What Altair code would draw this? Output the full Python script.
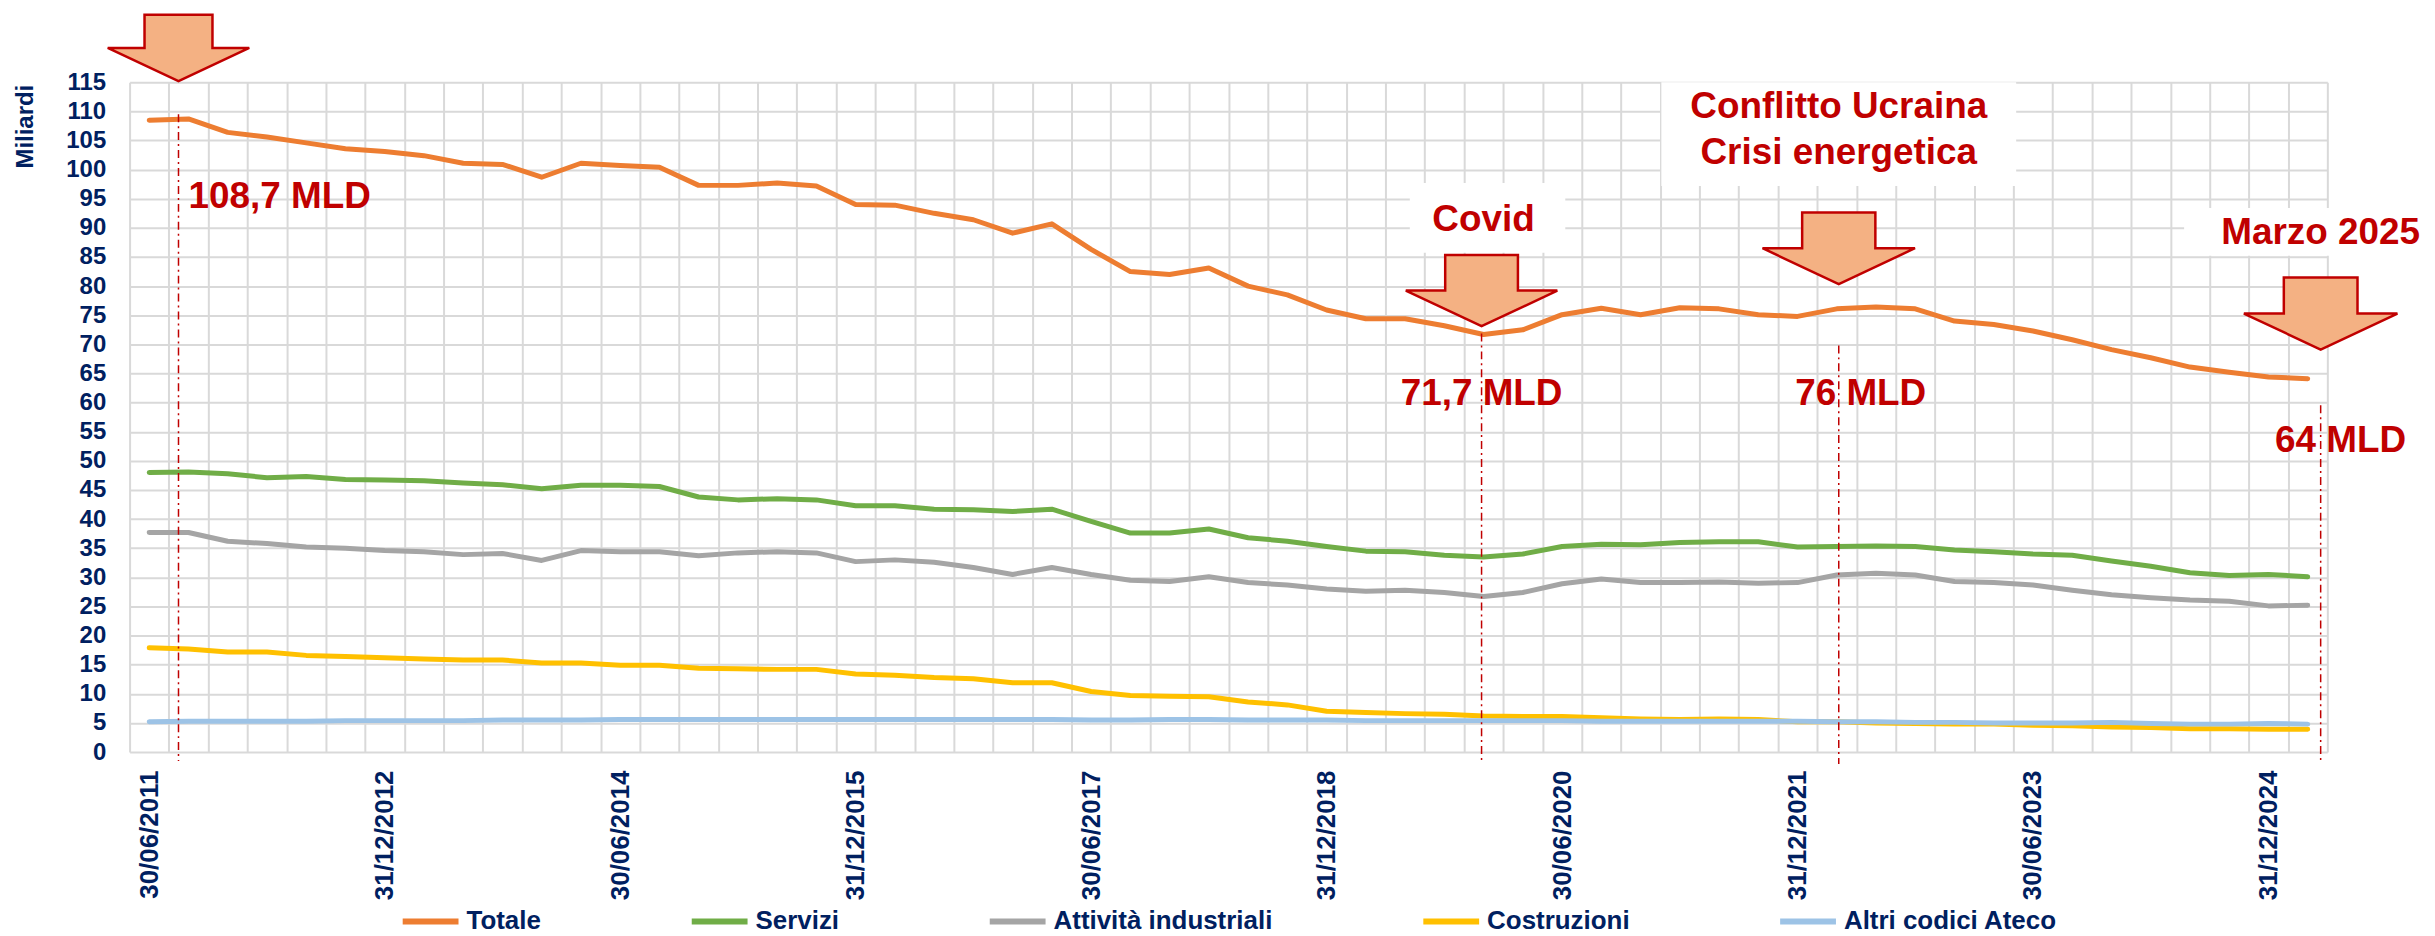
import altair as alt
import pandas as pd

# ---------------- data ----------------
tick_labels = ["30/06/2011", "31/12/2012", "30/06/2014", "31/12/2015", "30/06/2017",
               "31/12/2018", "30/06/2020", "31/12/2021", "30/06/2023", "31/12/2024"]
series_names = ["Totale", "Servizi", "Attività industriali", "Costruzioni", "Altri codici Ateco"]
series_colors = ["#ED7D31", "#70AD47", "#A5A5A5", "#FFC000", "#9DC3E6"]

totale = [108.5, 108.7, 106.4, 105.6, 104.6, 103.6, 103.1, 102.4, 101.1, 100.9,
          98.7, 101.1, 100.7, 100.4, 97.3, 97.3, 97.7, 97.2, 94.0, 93.9,
          92.5, 91.4, 89.1, 90.7, 86.3, 82.5, 82.0, 83.1, 80.0, 78.5,
          75.9, 74.4, 74.4, 73.2, 71.7, 72.5, 75.1, 76.2, 75.1, 76.3,
          76.1, 75.1, 74.8, 76.1, 76.4, 76.1, 74.0, 73.4, 72.3, 70.8,
          69.1, 67.7, 66.1, 65.2, 64.4, 64.1]
servizi = [48.0, 48.1, 47.8, 47.1, 47.3, 46.8, 46.7, 46.6, 46.2, 45.9,
           45.2, 45.8, 45.8, 45.6, 43.8, 43.3, 43.5, 43.3, 42.3, 42.3,
           41.7, 41.6, 41.3, 41.7, 39.6, 37.6, 37.6, 38.3, 36.8, 36.2,
           35.3, 34.5, 34.4, 33.8, 33.5, 34.0, 35.3, 35.7, 35.6, 36.0,
           36.1, 36.1, 35.2, 35.3, 35.4, 35.3, 34.7, 34.4, 34.0, 33.8,
           32.8, 31.9, 30.8, 30.3, 30.5, 30.1]
attivita = [37.7, 37.7, 36.2, 35.8, 35.2, 35.0, 34.6, 34.4, 33.9, 34.1,
            32.9, 34.6, 34.4, 34.4, 33.7, 34.2, 34.4, 34.2, 32.7, 33.0,
            32.6, 31.7, 30.5, 31.7, 30.5, 29.5, 29.3, 30.1, 29.1, 28.7,
            28.0, 27.6, 27.8, 27.4, 26.7, 27.4, 28.9, 29.7, 29.1, 29.1,
            29.2, 29.0, 29.1, 30.4, 30.7, 30.4, 29.3, 29.1, 28.7, 27.8,
            27.0, 26.5, 26.1, 25.9, 25.1, 25.2]
costruzioni = [17.9, 17.7, 17.2, 17.2, 16.6, 16.4, 16.2, 16.0, 15.8, 15.8,
               15.3, 15.3, 14.9, 14.9, 14.4, 14.3, 14.2, 14.2, 13.4, 13.2,
               12.8, 12.6, 11.9, 11.9, 10.4, 9.7, 9.6, 9.5, 8.6, 8.1,
               7.0, 6.8, 6.6, 6.5, 6.2, 6.1, 6.1, 5.9, 5.7, 5.6,
               5.7, 5.6, 5.2, 5.2, 5.0, 4.9, 4.8, 4.8, 4.6, 4.5,
               4.3, 4.2, 4.0, 4.0, 3.9, 3.9]
altri = [5.2, 5.3, 5.3, 5.3, 5.3, 5.4, 5.4, 5.4, 5.4, 5.5,
         5.5, 5.5, 5.6, 5.6, 5.6, 5.6, 5.6, 5.6, 5.6, 5.6,
         5.6, 5.6, 5.6, 5.6, 5.5, 5.5, 5.6, 5.6, 5.5, 5.5,
         5.5, 5.4, 5.4, 5.4, 5.4, 5.4, 5.4, 5.3, 5.3, 5.3,
         5.3, 5.3, 5.3, 5.2, 5.2, 5.1, 5.1, 5.0, 5.0, 5.0,
         5.1, 4.9, 4.8, 4.8, 4.9, 4.8]

y_ticks = list(range(0, 120, 5))

ann_idx = [1, 34, 43, 55]
ann_values = ["108,7 MLD", "71,7 MLD", "76 MLD", "64 MLD"]
ann_events = ["", "Covid", "Conflitto Ucraina\nCrisi energetica", "Marzo 2025"]

# ---------------- table ----------------
all_series = [totale, servizi, attivita, costruzioni, altri]
n = len(totale)
rows = []
for name, vals in zip(series_names, all_series):
    for i, v in enumerate(vals):
        rows.append({"q": i, "serie": name, "v": v})
df = pd.DataFrame(rows)

edges = [i - 0.5 for i in range(n + 1)]

# ---------------- style ----------------
FONT = "Liberation Sans"
NAVY = "#002060"
RED = "#C00000"
GRID = "#D9D9D9"
W, H = 2205, 672
band = W / n

arr_js = "[" + ",".join("'" + t + "'" for t in tick_labels) + "]"
label_expr = "(datum.value + 0.5) % 6 == 0 ? " + arr_js + "[(datum.value + 0.5) / 6] : ''"

xscale = alt.Scale(domain=[edges[0], edges[-1]], nice=False, zero=False)
yscale = alt.Scale(domain=[y_ticks[0], y_ticks[-1]], nice=False)

xaxis = alt.Axis(values=edges, grid=True, gridColor=GRID, gridWidth=2, domain=False,
                 ticks=False, labelExpr=label_expr, labelAngle=270, labelOffset=band / 2,
                 labelPadding=18, labelFont=FONT, labelFontSize=26, labelFontWeight="bold",
                 labelColor=NAVY, labelOverlap=False, labelFlush=False, labelBound=False,
                 title=None)
yaxis = alt.Axis(values=y_ticks, grid=True, gridColor=GRID, gridWidth=2, domain=False,
                 ticks=False, labelFont=FONT, labelFontSize=24, labelFontWeight="bold",
                 labelColor=NAVY, labelPadding=24, labelFlush=False, labelOverlap=False,
                 title="Miliardi", titleFont=FONT, titleFontSize=24, titleFontWeight="bold",
                 titleColor=NAVY, titleAngle=270, titleX=-104, titleY=2,
                 titleAlign="right", titleBaseline="middle")

legend = alt.Legend(orient="none", legendX=271, legendY=811, direction="horizontal",
                    title=None, symbolType="stroke", symbolSize=3136, symbolStrokeWidth=6,
                    labelFont=FONT, labelFontSize=26, labelFontWeight="bold",
                    labelColor=NAVY, labelOffset=5, columnPadding=139, labelLimit=0,
                    padding=0)

color = alt.Color("serie:N", scale=alt.Scale(domain=series_names, range=series_colors),
                  legend=legend)


def xq():
    return alt.X("q:Q", scale=xscale, axis=xaxis)


def yq():
    return alt.Y("v:Q", scale=yscale, axis=yaxis)


layers = []
for k, name in enumerate(series_names):
    layers.append(
        alt.Chart(df[df["serie"] == name]).mark_line(strokeWidth=5, strokeCap="round",
                                                     strokeJoin="round").encode(
            x=xq(), y=yq(), color=color)
    )

ARROW = "M-0.48,-0.47L0.48,-0.47L0.48,0L1,0L0,0.47L-1,0L-0.48,0Z"

# (annotation position in ann arrays, rule y1, rule y2, dx)
rule_specs = [(0, 32, 681, -10), (1, 252, 684, -2), (2, 264, 684, 2), (3, 324, 684, 13)]
for i, y1, y2, dx in rule_specs:
    layers.append(
        alt.Chart(pd.DataFrame({"q": [ann_idx[i]]})).mark_rule(
            color=RED, strokeWidth=1.5, strokeDash=[8, 4, 2, 4], xOffset=dx).encode(
            x=xq(), y=alt.value(y1), y2=alt.value(y2))
    )

# white boxes behind event titles: (i, yc, w, h, dx)
box_specs = [(1, 136, 156, 70, 4), (2, 52, 356, 104, 2), (3, 150, 244, 48, -2)]
for i, yc, w, h, dx in box_specs:
    hh = h / w
    path = "M-1,-{0:.4f}L1,-{0:.4f}L1,{0:.4f}L-1,{0:.4f}Z".format(hh)
    layers.append(
        alt.Chart(pd.DataFrame({"q": [ann_idx[i]]})).mark_point(
            shape=path, size=w * w, filled=True, fill="white", strokeWidth=0,
            opacity=1, xOffset=dx).encode(x=xq(), y=alt.value(yc))
    )

# arrows: (i, yc, w, dx)
arrow_specs = [(0, -34.5, 142, -10), (1, 209, 152, -2), (2, 166.5, 153, 2), (3, 232, 154, 13)]
for i, yc, w, dx in arrow_specs:
    layers.append(
        alt.Chart(pd.DataFrame({"q": [ann_idx[i]]})).mark_point(
            shape=ARROW, size=w * w, filled=True, fill="#F4B183", stroke=RED,
            strokeWidth=2.5, opacity=1, xOffset=dx).encode(x=xq(), y=alt.value(yc))
    )

# value labels: (i, baseline y, align, dx)
val_specs = [(0, 126, "left", 0), (1, 324, "center", -2), (2, 324, "center", 24),
             (3, 371, "center", 33)]
for i, yb, al, dx in val_specs:
    layers.append(
        alt.Chart(pd.DataFrame({"q": [ann_idx[i]], "t": [ann_values[i]]})).mark_text(
            font=FONT, fontSize=37, fontWeight="bold", color=RED, align=al,
            baseline="alphabetic", dx=dx).encode(x=xq(), y=alt.value(yb), text="t:N")
    )

# event labels: (i, baseline y, dx)
ev_specs = [(1, 149, 0), (2, 36, 2), (3, 162, 13)]
for i, yb, dx in ev_specs:
    layers.append(
        alt.Chart(pd.DataFrame({"q": [ann_idx[i]], "t": [ann_events[i]]})).mark_text(
            font=FONT, fontSize=37, fontWeight="bold", color=RED, align="center",
            baseline="alphabetic", dx=dx, lineBreak="\n", lineHeight=46).encode(
            x=xq(), y=alt.value(yb), text="t:N")
    )

chart = alt.layer(*layers).properties(
    width=W, height=H,
    autosize=alt.AutoSizeParams(type="none"),
    padding={"left": 122, "top": 73, "right": 100, "bottom": 183},
    background="white",
).configure_view(strokeWidth=0)

chart.save("out.html", embed_options={"renderer": "svg", "actions": False})
